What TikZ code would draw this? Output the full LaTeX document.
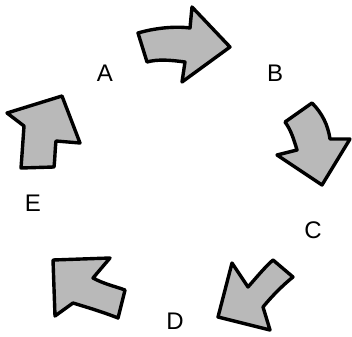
\documentclass[tikz,border=0pt]{standalone}
\usepackage{fontspec}
\setmainfont{Liberation Sans}
\usepackage{tikz}
\usetikzlibrary{positioning}

\begin{document}
\begin{tikzpicture}[
    x=1pt, y=-1pt,
    blockarrow/.style={draw=black, line width=3.4pt, line join=round, fill=gray!55},
    letter/.style={font=\fontsize{24}{24}\selectfont, inner sep=0pt}
]
    \useasboundingbox (0,0) rectangle (352,336);

    % A to B
    \draw[blockarrow] (138,33) .. controls (155,28) and (175,26) .. (190,28) -- (192,7) -- (230,47)
        -- (182,82) -- (185,62) .. controls (170,60) and (158,59) .. (147,62) -- cycle;

    % B to C
    \draw[blockarrow] (312,103) .. controls (322,113) and (328,125) .. (330,139) -- (350,139)
        -- (322,185) -- (277,155) -- (297,150) .. controls (294,140) and (291,130) .. (285,122) -- cycle;

    % C to D
    \draw[blockarrow] (273,260) -- (293,277) .. controls (283,285) and (272,296) .. (263,307)
        -- (270,330) -- (218,317) -- (232,263) -- (248,287) .. controls (256,278) and (264,268) .. (273,260) -- cycle;

    % D to E
    \draw[blockarrow] (53,260) -- (110,258) -- (93,278) .. controls (104,284) and (114,286) .. (125,290)
        -- (118,318) .. controls (103,312) and (86,307) .. (73,303) -- (55,316) -- cycle;

    % E to A
    \draw[blockarrow] (62,96) -- (80,143) -- (56,141) .. controls (55,150) and (55,158) .. (54,167)
        -- (21,168) .. controls (22,155) and (23,140) .. (24,126) -- (7,113) -- cycle;

    % Labels
    \node[letter] (labA) at (105,73) {A};
    \node[letter] (labB) at (275,73) {B};
    \node[letter] (labC) at (313,230) {C};
    \node[letter] (labD) at (175,321) {D};
    \node[letter] (labE) at (33,203) {E};

\end{tikzpicture}
\end{document}
